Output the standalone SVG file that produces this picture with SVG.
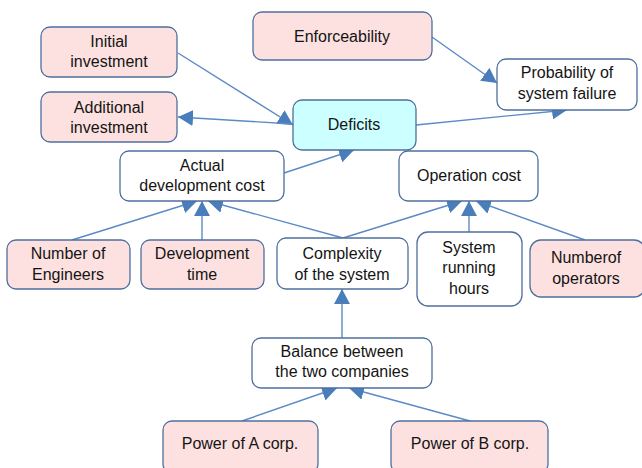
<svg xmlns="http://www.w3.org/2000/svg" width="642" height="468" viewBox="0 0 642 468">
  <style>
    .box { stroke: #4f6f9f; stroke-width: 1.3; }
    .pink { fill: #fde1e0; }
    .white { fill: #ffffff; }
    .cyan { fill: #ccffff; }
    .lbl { font-family: "Liberation Sans", Arial, sans-serif; font-size: 16px; fill: #141414; text-anchor: middle; }
    .link { stroke: #5b8ac6; stroke-width: 1.4; fill: none; marker-end: url(#head); }
  </style>
  <defs>
    <marker id="head" markerUnits="userSpaceOnUse" markerWidth="16" markerHeight="16" refX="15" refY="8" orient="auto">
      <path d="M0,0 L15,8 L0,16 Z" fill="#4a7ebb"/>
    </marker>
  </defs>
  <rect width="642" height="468" fill="#ffffff"/>

  <!-- connectors -->
  <g id="connectors">
    <line class="link" x1="178" y1="53" x2="293" y2="125"/>
    <line class="link" x1="293" y1="124" x2="178" y2="117"/>
    <line class="link" x1="432" y1="37" x2="497" y2="83"/>
    <line class="link" x1="416" y1="125" x2="567" y2="110"/>
    <line class="link" x1="284" y1="173" x2="354" y2="150"/>
    <line class="link" x1="72" y1="240" x2="197" y2="201"/>
    <line class="link" x1="202" y1="240" x2="202" y2="201"/>
    <line class="link" x1="343" y1="238" x2="208" y2="201"/>
    <line class="link" x1="343" y1="238" x2="462" y2="201"/>
    <line class="link" x1="469" y1="232" x2="469" y2="201"/>
    <line class="link" x1="585" y1="240" x2="476" y2="201"/>
    <line class="link" x1="342" y1="338" x2="342" y2="289"/>
    <line class="link" x1="242" y1="421" x2="337" y2="388"/>
    <line class="link" x1="470" y1="421" x2="349" y2="388"/>
  </g>

  <g id="initial-investment">
    <rect class="box pink" x="41" y="27" width="136" height="50" rx="9"/>
    <text class="lbl" x="109" y="47">Initial</text>
    <text class="lbl" x="109" y="67">investment</text>
  </g>
  <g id="additional-investment">
    <rect class="box pink" x="41" y="92" width="136" height="50" rx="9"/>
    <text class="lbl" x="109" y="113">Additional</text>
    <text class="lbl" x="109" y="133">investment</text>
  </g>
  <g id="enforceability">
    <rect class="box pink" x="253" y="12" width="179" height="48" rx="9"/>
    <text class="lbl" x="342" y="42">Enforceability</text>
  </g>
  <g id="deficits">
    <rect class="box cyan" x="293" y="100" width="123" height="50" rx="9"/>
    <text class="lbl" x="354" y="130">Deficits</text>
  </g>
  <g id="probability-of-failure">
    <rect class="box white" x="497" y="59" width="140" height="51" rx="9"/>
    <text class="lbl" x="567" y="78">Probability of</text>
    <text class="lbl" x="567" y="99">system failure</text>
  </g>
  <g id="actual-development-cost">
    <rect class="box white" x="120" y="151" width="164" height="50" rx="9"/>
    <text class="lbl" x="202" y="171">Actual</text>
    <text class="lbl" x="202" y="191">development cost</text>
  </g>
  <g id="operation-cost">
    <rect class="box white" x="399" y="151" width="139" height="50" rx="9"/>
    <text class="lbl" x="469" y="181">Operation cost</text>
  </g>
  <g id="number-of-engineers">
    <rect class="box pink" x="7" y="240" width="123" height="49" rx="9"/>
    <text class="lbl" x="68" y="259">Number of</text>
    <text class="lbl" x="68" y="280">Engineers</text>
  </g>
  <g id="development-time">
    <rect class="box pink" x="141" y="240" width="123" height="49" rx="9"/>
    <text class="lbl" x="202" y="259">Development</text>
    <text class="lbl" x="202" y="280">time</text>
  </g>
  <g id="complexity">
    <rect class="box white" x="277" y="238" width="131" height="51" rx="9"/>
    <text class="lbl" x="342" y="259">Complexity</text>
    <text class="lbl" x="342" y="280">of the system</text>
  </g>
  <g id="system-running-hours">
    <rect class="box white" x="417" y="232" width="105" height="74" rx="11"/>
    <text class="lbl" x="469" y="253">System</text>
    <text class="lbl" x="469" y="273">running</text>
    <text class="lbl" x="469" y="294">hours</text>
  </g>
  <g id="number-of-operators">
    <rect class="box pink" x="530" y="240" width="115" height="57" rx="11"/>
    <text class="lbl" x="586" y="263">Numberof</text>
    <text class="lbl" x="586" y="284">operators</text>
  </g>
  <g id="balance">
    <rect class="box white" x="252" y="338" width="180" height="50" rx="9"/>
    <text class="lbl" x="342" y="357">Balance between</text>
    <text class="lbl" x="342" y="377">the two companies</text>
  </g>
  <g id="power-a">
    <rect class="box pink" x="163" y="421" width="155" height="52" rx="9"/>
    <text class="lbl" x="240" y="449">Power of A corp.</text>
  </g>
  <g id="power-b">
    <rect class="box pink" x="391" y="421" width="157" height="52" rx="9"/>
    <text class="lbl" x="470" y="449">Power of B corp.</text>
  </g>
</svg>
